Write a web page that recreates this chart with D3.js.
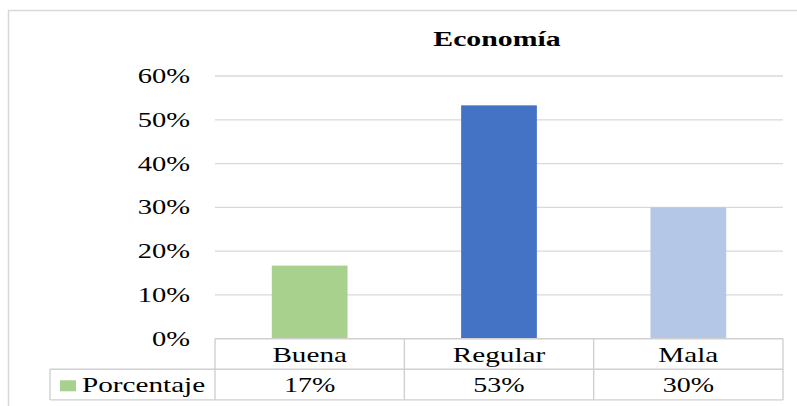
<!DOCTYPE html>
<html>
<head>
<meta charset="utf-8">
<script src="https://cdn.jsdelivr.net/npm/d3@7"></script>
<style>
  body { margin: 0; background: #fff; }
</style>
</head>
<body>
<div id="chart"></div>
<script>
// chart data
const categories = ["Buena", "Regular", "Mala"];
const values = [0.167, 0.533, 0.30];
const colors = ["#A9D18E", "#4472C4", "#B4C7E7"];
const yTicks = [0, 0.1, 0.2, 0.3, 0.4, 0.5, 0.6];
const seriesName = "Porcentaje";
const title = "Economía";

const W = 797, H = 406;
const plot = { left: 215, right: 783, top: 76, bottom: 338.7 };
const rowH = 30.6;
const serif = "'Liberation Serif', 'Times New Roman', 'DejaVu Serif', serif";

const svg = d3.select("#chart")
    .append("svg")
    .attr("width", W)
    .attr("height", H);

// outer chart border
svg.append("rect")
    .attr("x", 8.5).attr("y", 10.5)
    .attr("width", 820).attr("height", 420)
    .attr("fill", "none")
    .attr("stroke", "#d9d9d9")
    .attr("stroke-width", 1.5);

// the original picture is widened, so text gets a horizontal stretch
function label(x, y, txt, size, anchor, bold, sx) {
    const g = svg.append("g")
        .attr("transform", "translate(" + x + "," + y + ") scale(" + sx + ",1)");
    g.append("text")
        .attr("text-anchor", anchor)
        .style("font-family", serif)
        .attr("font-size", size)
        .attr("font-weight", bold ? "bold" : "normal")
        .attr("fill", "#000")
        .text(txt);
    return g;
}

const x = d3.scaleBand()
    .domain(categories)
    .range([plot.left, plot.right])
    .paddingInner(0.6)
    .paddingOuter(0.3);

const xEdge = d3.scaleBand()
    .domain(categories)
    .range([plot.left, plot.right]);

const y = d3.scaleLinear()
    .domain([0, 0.6])
    .range([plot.bottom, plot.top]);

const pct = d3.format(".0%");

// title
label((plot.left + plot.right) / 2 - 2, 46, title, 21, "middle", true, 1.42);

// gridlines
svg.selectAll(".grid")
    .data(yTicks.filter(t => t > 0))
    .enter()
    .append("line")
    .attr("x1", plot.left).attr("x2", plot.right)
    .attr("y1", d => y(d)).attr("y2", d => y(d))
    .attr("stroke", "#d9d9d9")
    .attr("stroke-width", 1.3);

// y tick labels
yTicks.forEach(t => label(190, y(t) + 7, pct(t), 21, "end", false, 1.36));

// bars
svg.selectAll(".bar")
    .data(values)
    .enter()
    .append("rect")
    .attr("class", "bar")
    .attr("x", (d, i) => x(categories[i]))
    .attr("y", d => y(d))
    .attr("width", x.bandwidth())
    .attr("height", d => plot.bottom - y(d))
    .attr("fill", (d, i) => colors[i]);

// data table
const tb = plot.bottom;
const legendLeft = 50;
const tableLines = svg.append("g")
    .attr("stroke", "#d0d0d0")
    .attr("stroke-width", 1.4);

tableLines.append("line")
    .attr("x1", plot.left).attr("x2", plot.right)
    .attr("y1", tb).attr("y2", tb);
tableLines.append("line")
    .attr("x1", legendLeft).attr("x2", plot.right)
    .attr("y1", tb + rowH).attr("y2", tb + rowH);
tableLines.append("line")
    .attr("x1", legendLeft).attr("x2", plot.right)
    .attr("y1", tb + 2 * rowH).attr("y2", tb + 2 * rowH);
tableLines.append("line")
    .attr("x1", legendLeft).attr("x2", legendLeft)
    .attr("y1", tb + rowH).attr("y2", tb + 2 * rowH);

const edges = categories.map(c => xEdge(c)).concat([plot.right]);
edges.forEach(e => {
    tableLines.append("line")
        .attr("x1", e).attr("x2", e)
        .attr("y1", tb).attr("y2", tb + 2 * rowH);
});

categories.forEach((c, i) => {
    const cx = xEdge(c) + xEdge.bandwidth() / 2;
    label(cx, tb + rowH / 2 + 7.5, c, 20, "middle", false, 1.46);
    label(cx, tb + rowH * 1.5 + 7.5, pct(values[i]), 20, "middle", false, 1.4);
});

// legend key in table
svg.append("rect")
    .attr("x", 60).attr("y", tb + rowH + 11)
    .attr("width", 16).attr("height", 11)
    .attr("fill", colors[0]);
label(82, tb + rowH * 1.5 + 7.5, seriesName, 20, "start", false, 1.46);
</script>
</body>
</html>
